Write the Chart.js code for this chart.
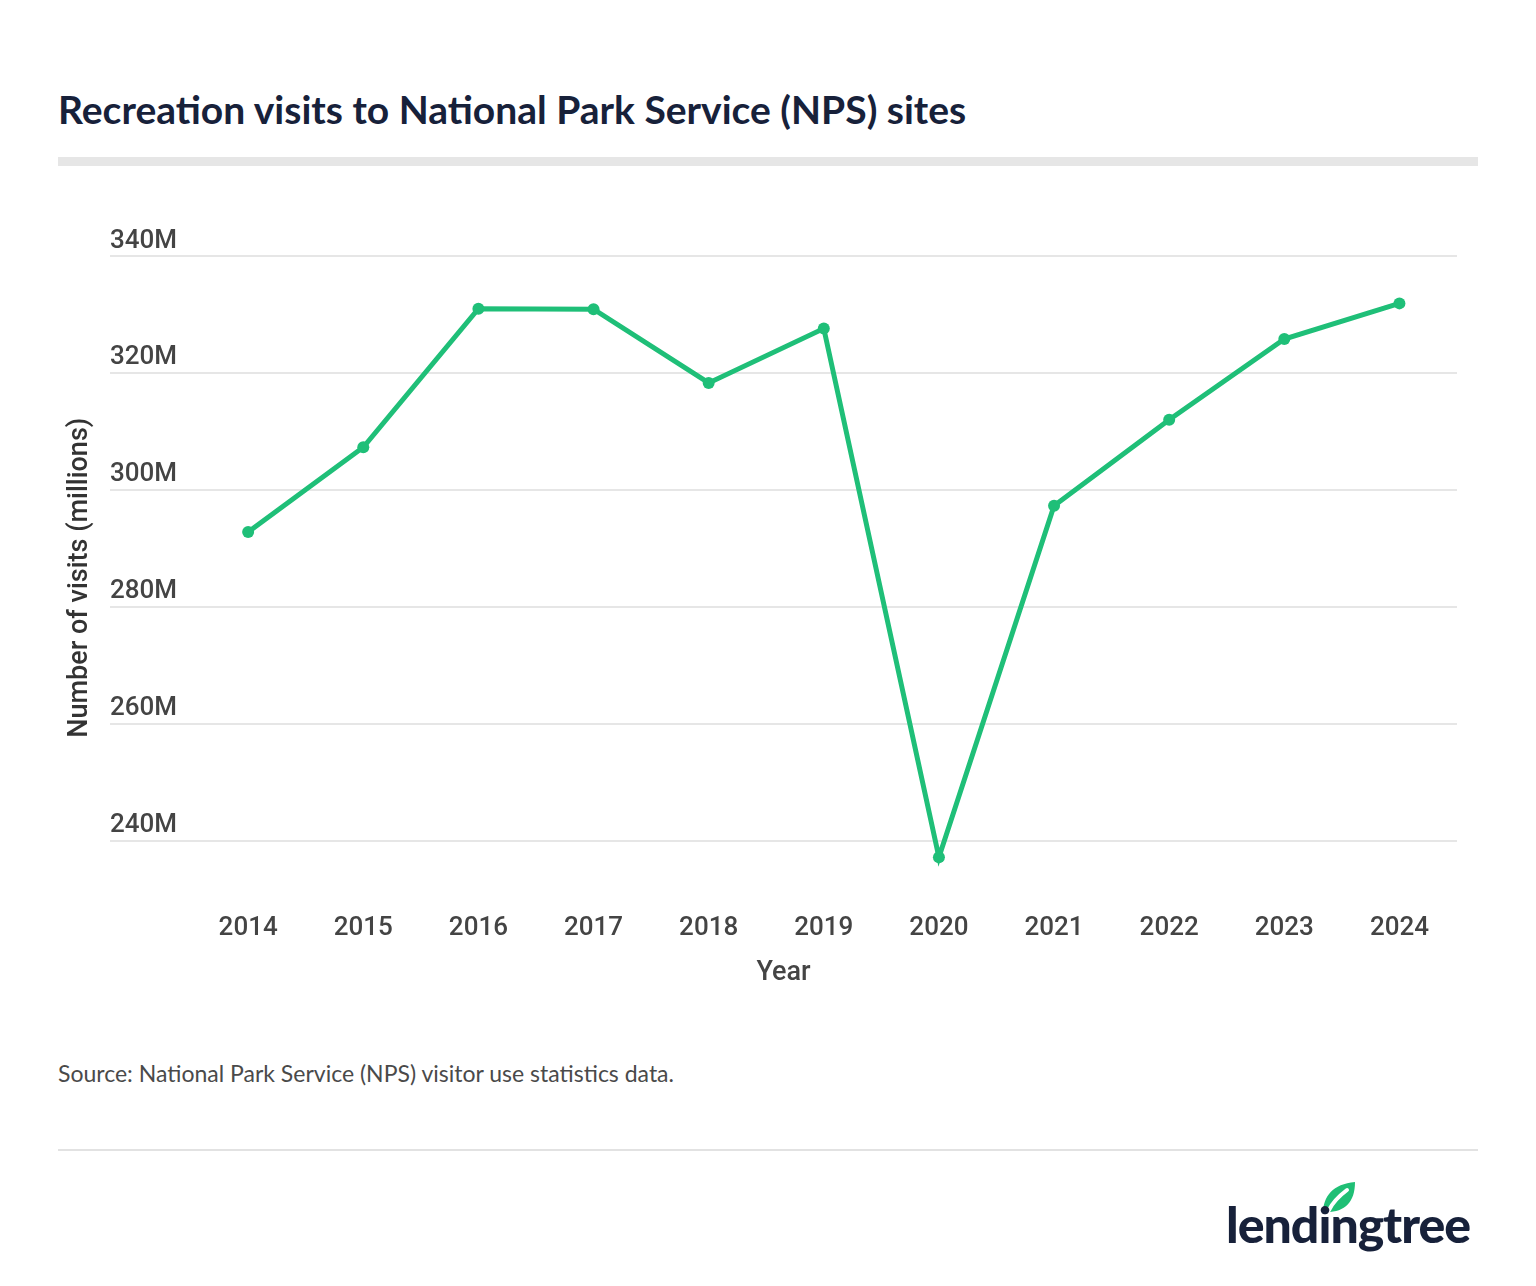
<!DOCTYPE html>
<html>
<head>
<meta charset="utf-8">
<script src="https://cdn.jsdelivr.net/npm/chart.js@4.4.1/dist/chart.umd.min.js"></script>
<style>
  body { margin: 0; background: #fff; width: 1536px; height: 1286px; position: relative; overflow: hidden; }
  #title { position: absolute; left: 58px; top: 86px; font: bold 39px Lato, sans-serif; color: #17213a; }
  #bar { position: absolute; left: 58px; top: 157px; width: 1420px; height: 9px; background: #e6e6e6; }
  #wrap { position: absolute; left: 60px; top: 200px; width: 1420px; height: 789px; }
  #source { position: absolute; left: 58px; top: 1059px; font: 23px Lato, sans-serif; color: #4a4a4a; }
  #rule { position: absolute; left: 58px; top: 1149px; width: 1420px; height: 2px; background: #e2e2e2; }
  #logo { position: absolute; left: 1226px; top: 1176px; width: 260px; height: 90px; }
  #logo span { position: absolute; left: 0; top: 18px; font: 900 50px Lato, sans-serif; color: #17213a; letter-spacing: -1px; }
</style>
</head>
<body>
<div id="title">Recreation visits to National Park Service (NPS) sites</div>
<div id="bar"></div>
<div id="wrap"><canvas id="chart"></canvas></div>
<div id="source">Source: National Park Service (NPS) visitor use statistics data.</div>
<div id="rule"></div>
<div id="logo">
  <svg width="40" height="40" style="position:absolute;left:93px;top:2px" viewBox="0 0 40 40">
    <path d="M4 36 C4 18 14 6 36 4 C36 24 26 34 8 34 Z" fill="#1fbf75"/>
    <path d="M10 32 C14 24 20 18 28 12" stroke="#fff" stroke-width="4" fill="none" stroke-linecap="round"/>
  </svg>
  <span>lendingtree</span>
</div>
<script>
// years and visits (millions)
const years = [2014, 2015, 2016, 2017, 2018, 2019, 2020, 2021, 2022, 2023, 2024];
const visits = [292.8, 307.3, 331.0, 330.9, 318.3, 327.6, 237.2, 297.3, 312.0, 325.8, 331.9];
const yTicks = [240, 260, 280, 300, 320, 340];

const green = '#1fbf78';
const tickFont = { family: 'Roboto', size: 26, weight: '500' };
const titleFont = { family: 'Roboto', size: 27, weight: '500' };

new Chart(document.getElementById('chart'), {
  type: 'line',
  data: {
    datasets: [{
      data: years.map((y, i) => ({ x: y, y: visits[i] })),
      borderColor: green,
      backgroundColor: green,
      borderWidth: 5,
      pointRadius: 6,
      pointHoverRadius: 6,
      pointBorderWidth: 0,
      tension: 0
    }]
  },
  options: {
    responsive: true,
    maintainAspectRatio: false,
    animation: false,
    layout: { padding: { top: 56, right: 23, left: 0, bottom: 0 } },
    plugins: { legend: { display: false }, tooltip: { enabled: false } },
    scales: {
      x: {
        type: 'linear',
        min: 2012.8,
        max: 2024.5,
        afterBuildTicks: s => { s.ticks = years.map(v => ({ value: v })); },
        grid: { display: false, drawTicks: false },
        border: { display: false },
        ticks: { color: '#444', font: tickFont, padding: 13, callback: v => String(v) },
        title: { display: true, text: 'Year', color: '#444', font: titleFont, padding: { top: 0, bottom: 0 } }
      },
      y: {
        min: 230,
        max: 340,
        afterBuildTicks: s => { s.ticks = yTicks.map(v => ({ value: v })); },
        afterFit: s => { s.width = 50; },
        grid: { color: '#e6e6e6', lineWidth: 2, drawTicks: false },
        border: { display: false },
        ticks: { mirror: true, padding: 0, labelOffset: -15, color: '#444', font: tickFont, callback: v => v + 'M' },
        title: { display: true, text: 'Number of visits (millions)', color: '#333', font: titleFont, padding: { top: 4, bottom: 0 } }
      }
    }
  }
});
</script>
</body>
</html>
